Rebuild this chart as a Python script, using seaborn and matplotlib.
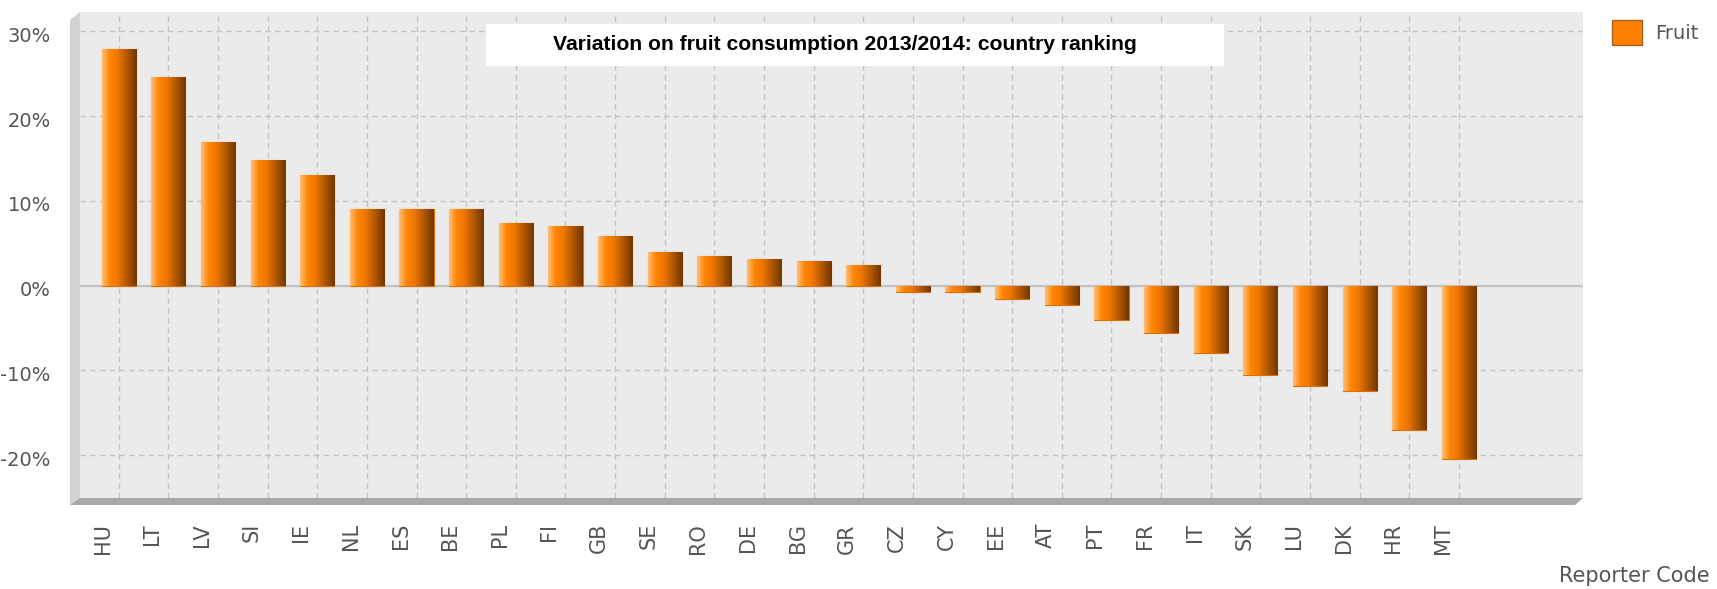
import numpy as np
import pandas as pd
import matplotlib
matplotlib.use("Agg")
import matplotlib.pyplot as plt
import matplotlib.transforms as mtransforms
import seaborn as sns
from matplotlib.colors import LinearSegmentedColormap
from matplotlib.patches import Polygon, Rectangle, Patch
from matplotlib.ticker import FuncFormatter

# ---------------- data ----------------
countries = ["HU", "LT", "LV", "SI", "IE", "NL", "ES", "BE", "PL", "FI", "GB", "SE",
             "RO", "DE", "BG", "GR", "CZ", "CY", "EE", "AT", "PT", "FR", "IT", "SK",
             "LU", "DK", "HR", "MT"]
values = [27.9, 24.6, 17.0, 14.8, 13.1, 9.0, 9.0, 9.0, 7.4, 7.0, 5.9, 4.0,
          3.5, 3.1, 2.9, 2.4, -0.8, -0.8, -1.6, -2.3, -4.1, -5.6, -7.9, -10.5,
          -11.8, -12.4, -17.0, -20.5]
y_ticks = [-20, -10, 0, 10, 20, 30]
title = "Variation on fruit consumption 2013/2014: country ranking"
series_name = "Fruit"
x_label = "Reporter Code"

df = pd.DataFrame({"country": countries, "value": values})

sns.set_style("white")
plt.rcParams["font.family"] = ["DejaVu Sans"]

W, H = 1717, 589
fig = plt.figure(figsize=(W / 100, H / 100), dpi=100)

def fx(px):
    return px / W

def fy(py):
    return 1 - py / H

ax_left, ax_right, ax_top, ax_bot = 80, 1583, 12, 498
ax = fig.add_axes([fx(ax_left), fy(ax_bot), fx(ax_right - ax_left), (ax_bot - ax_top) / H])
ax.set_facecolor("#ebebeb")

sns.barplot(data=df, x="country", y="value", color="#ff8000", width=0.69,
            ax=ax, zorder=3, edgecolor="#d97000", linewidth=0.8)

# cylinder-like gradient clipped to each bar
cmap = LinearSegmentedColormap.from_list(
    "cyl", [(0.0, "#ffc07a"), (0.22, "#ff8506"), (0.45, "#ee7600"),
            (0.8, "#9c4d00"), (1.0, "#733600")])
grad = np.linspace(0, 1, 256).reshape(1, -1)
for p in list(ax.patches):
    x0, y0 = p.get_x(), p.get_y()
    w, h = p.get_width(), p.get_height()
    im = ax.imshow(grad, cmap=cmap, aspect="auto", zorder=3.5,
                   extent=[x0, x0 + w, min(y0, y0 + h), max(y0, y0 + h)])
    im.set_clip_path(p)

ax.set_xlim(-0.78, 29.5)
ax.set_ylim(-25.06, 32.3)

# grid
ax.set_axisbelow(True)
ax.grid(True, linestyle=(0, (4, 3)), color="#c4c4c4", linewidth=1)
ax.axhline(0, color="#c2c2c2", lw=1.6, zorder=2)

for s in ax.spines.values():
    s.set_visible(False)

ax.set_yticks(y_ticks)
ax.yaxis.set_major_formatter(FuncFormatter(lambda v, _: f"{int(v)}%"))
ax.tick_params(axis="y", length=0, pad=21, labelsize=14, labelcolor="#555555")
ax.tick_params(axis="x", length=0, pad=18, labelsize=15, labelcolor="#555555",
               labelrotation=90)
ax.set_xlabel("")
ax.set_ylabel("")

off_x = mtransforms.ScaledTranslation(-16 / 100, 0, fig.dpi_scale_trans)
for lab in ax.get_xticklabels():
    lab.set_transform(lab.get_transform() + off_x)
    lab.set_va("top")
off_y = mtransforms.ScaledTranslation(0, -3 / 100, fig.dpi_scale_trans)
for lab in ax.get_yticklabels():
    lab.set_transform(lab.get_transform() + off_y)

# pseudo-3D left wall and floor
wall = Polygon([(fx(70), fy(505)), (fx(70), fy(20)), (fx(80), fy(12)), (fx(80), fy(498))],
               closed=True, transform=fig.transFigure, facecolor="#d2d2d2",
               edgecolor="none", zorder=0)
floor = Polygon([(fx(70), fy(505)), (fx(80), fy(498)), (fx(ax_right), fy(498)),
                 (fx(ax_right - 8), fy(505))], closed=True, transform=fig.transFigure,
                facecolor="#a8a8a8", edgecolor="none", zorder=0)
fig.patches.extend([wall, floor])

# title box
fig.patches.append(Rectangle((fx(486), fy(66)), fx(1224 - 486), (66 - 24) / H,
                             transform=fig.transFigure, facecolor="white",
                             edgecolor="none", zorder=5))
fig.text(fx(845), fy(45), title, ha="center", va="center", fontsize=15.2,
         fontweight="bold", color="black", zorder=6,
         family=["Liberation Sans Narrow", "Liberation Sans", "DejaVu Sans"])

# legend
leg = ax.legend(handles=[Patch(facecolor="#ff8000", edgecolor="#a0602a")],
                labels=[series_name], loc="upper left",
                bbox_to_anchor=(fx(1594), fy(3)), bbox_transform=fig.transFigure,
                frameon=False, fontsize=14, handlelength=1.55, handleheight=1.55,
                handletextpad=0.7)
for t in leg.get_texts():
    t.set_color("#555555")

fig.text(fx(1710), fy(576), x_label, ha="right", va="center", fontsize=15,
         color="#555555")

fig.savefig("out.png", dpi=100, facecolor="white")
